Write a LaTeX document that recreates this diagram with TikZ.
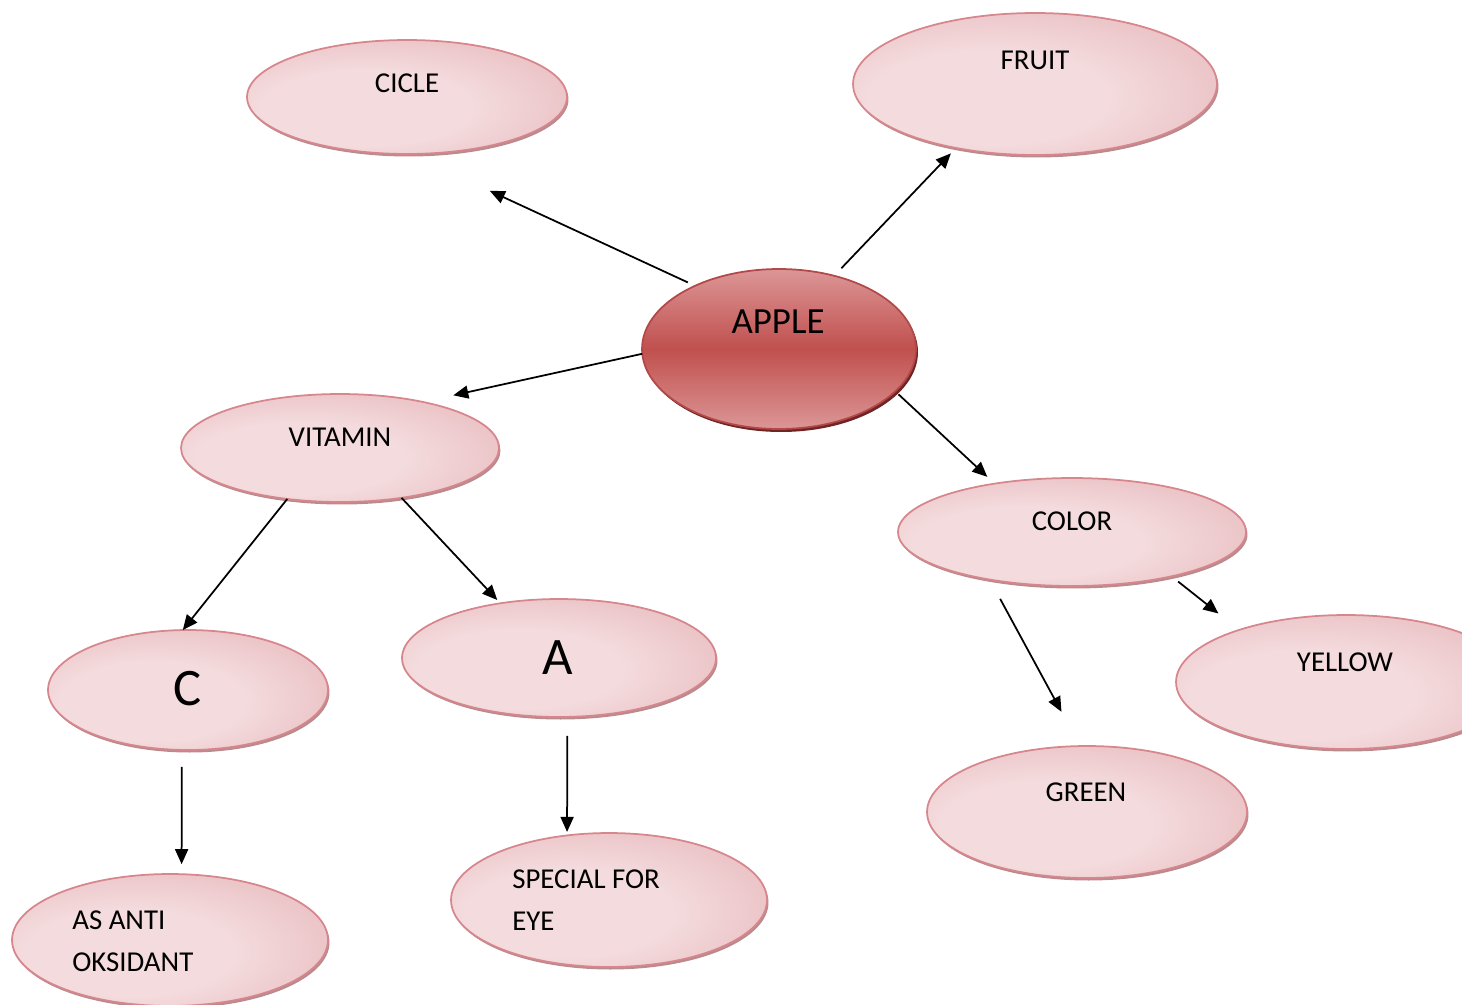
\documentclass[tikz,border=0pt]{standalone}
\usepackage{fontspec}
\setmainfont{Carlito}
\usetikzlibrary{shapes.geometric,shadows,arrows.meta}
\definecolor{pinkL}{RGB}{244,220,222}
\definecolor{pinkM}{RGB}{230,182,186}
\definecolor{pinkD}{RGB}{212,142,148}
\definecolor{pinkB}{RGB}{214,134,140}
\definecolor{pinkS}{RGB}{176,126,130}
\definecolor{appleL}{RGB}{220,150,150}
\definecolor{appleD}{RGB}{192,80,78}
\definecolor{appleB}{RGB}{178,72,72}
\definecolor{appleS}{RGB}{112,36,36}
\pgfdeclareradialshading{pinkrad}{\pgfpoint{-8bp}{-6bp}}{color(0bp)=(pinkL); color(16bp)=(pinkL); color(40bp)=(pinkM); color(56bp)=(pinkD); color(80bp)=(pinkD)}
\begin{document}
\begin{tikzpicture}[x=0.02cm,y=-0.02cm,
  bub/.style={ellipse, draw=pinkB, line width=0.035cm, shade, shading=pinkrad, inner sep=0pt, outer sep=0pt,
    drop shadow={shadow xshift=0.03cm, shadow yshift=-0.05cm, fill=pinkS, opacity=0.9}},
  applebub/.style={ellipse, draw=appleB, line width=0.035cm, top color=appleL, bottom color=appleL, middle color=appleD, inner sep=0pt, outer sep=0pt,
    drop shadow={shadow xshift=0.04cm, shadow yshift=-0.06cm, fill=appleS, opacity=1}},
  lbl/.style={font=\fontsize{16.4}{19}\selectfont, anchor=base, inner sep=0pt},
  lbltwo/.style={font=\fontsize{16.4}{23.8}\selectfont, anchor=base west, inner sep=0pt, align=left},
  biglbl/.style={font=\fontsize{30}{34}\selectfont, anchor=base, inner sep=0pt},
  applelbl/.style={font=\fontsize{21}{25}\selectfont, anchor=base, inner sep=0pt},
  arr/.style={-{Triangle[length=0.3cm,width=0.26cm]}, line width=0.035cm, black}]
\useasboundingbox (0,0) rectangle (1462,1004);
\clip (0,0) rectangle (1462,1004);

\node[bub, minimum width=6.4cm, minimum height=2.28cm] (cicle) at (407,97) {};
\node[lbl] (cicleT) at (407,92) {CICLE};

\node[bub, minimum width=7.28cm, minimum height=2.84cm] (fruit) at (1035,84) {};
\node[lbl] (fruitT) at (1035,69) {FRUIT};

\node[applebub, minimum width=5.48cm, minimum height=3.2cm] (apple) at (779,349) {};
\node[applelbl] (appleT) at (778,333) {APPLE};

\node[bub, minimum width=6.36cm, minimum height=2.16cm] (vitamin) at (340,448) {};
\node[lbl] (vitaminT) at (340,446) {VITAMIN};

\node[bub, minimum width=6.96cm, minimum height=2.16cm] (color) at (1072,532) {};
\node[lbl] (colorT) at (1072,530) {COLOR};

\node[bub, minimum width=5.6cm, minimum height=2.4cm] (nC) at (188,690) {};
\node[biglbl] (nCT) at (188,705) {C};

\node[bub, minimum width=6.28cm, minimum height=2.36cm] (nA) at (559,658) {};
\node[biglbl] (nAT) at (558,674) {A};

\node[bub, minimum width=6.8cm, minimum height=2.68cm] (yellow) at (1346,682) {};
\node[lbl] (yellowT) at (1345,671) {YELLOW};

\node[bub, minimum width=6.4cm, minimum height=2.64cm] (green) at (1087,812) {};
\node[lbl] (greenT) at (1086,801) {GREEN};

\node[bub, minimum width=6.32cm, minimum height=2.68cm] (special) at (609,900) {};
\node[lbltwo] (specialT) at (512,930) {SPECIAL FOR\\EYE};

\node[bub, minimum width=6.32cm, minimum height=2.64cm] (asanti) at (170,940) {};
\node[lbltwo] (asantiT) at (72,971) {AS ANTI\\OKSIDANT};

\draw[arr, shorten <=0.16cm, shorten >=1.76cm] (apple.143.9) -- (cicle.-87.7);
\draw[arr, shorten <=0.21cm, shorten >=0.15cm] (apple.53.2) -- (fruit.-141.9);
\draw[arr, shorten >=0.62cm] (apple.-178.7) -- (vitamin.29.4);
\draw[arr, shorten <=0.09cm, shorten >=0.2cm] (apple.-20.3) -- (color.148.9);
\draw[arr] (vitamin.-136.2) -- (nC.95.5);
\draw[arr, shorten >=0.09cm] (vitamin.-39.3) -- (nA.137.1);
\draw[arr, shorten <=0.34cm, shorten >=0.2cm] (nC.-96.7) -- (asanti.80.5);
\draw[arr, shorten <=0.38cm, shorten >=0.07cm] (nA.-82.3) -- (special.123);
\draw[arr, shorten <=0.44cm, shorten >=0.78cm] (color.-150) -- (green.96.5);
\draw[arr, shorten <=0.17cm, shorten >=0.53cm] (color.-24.7) -- (yellow.154.8);
\end{tikzpicture}
\end{document}
